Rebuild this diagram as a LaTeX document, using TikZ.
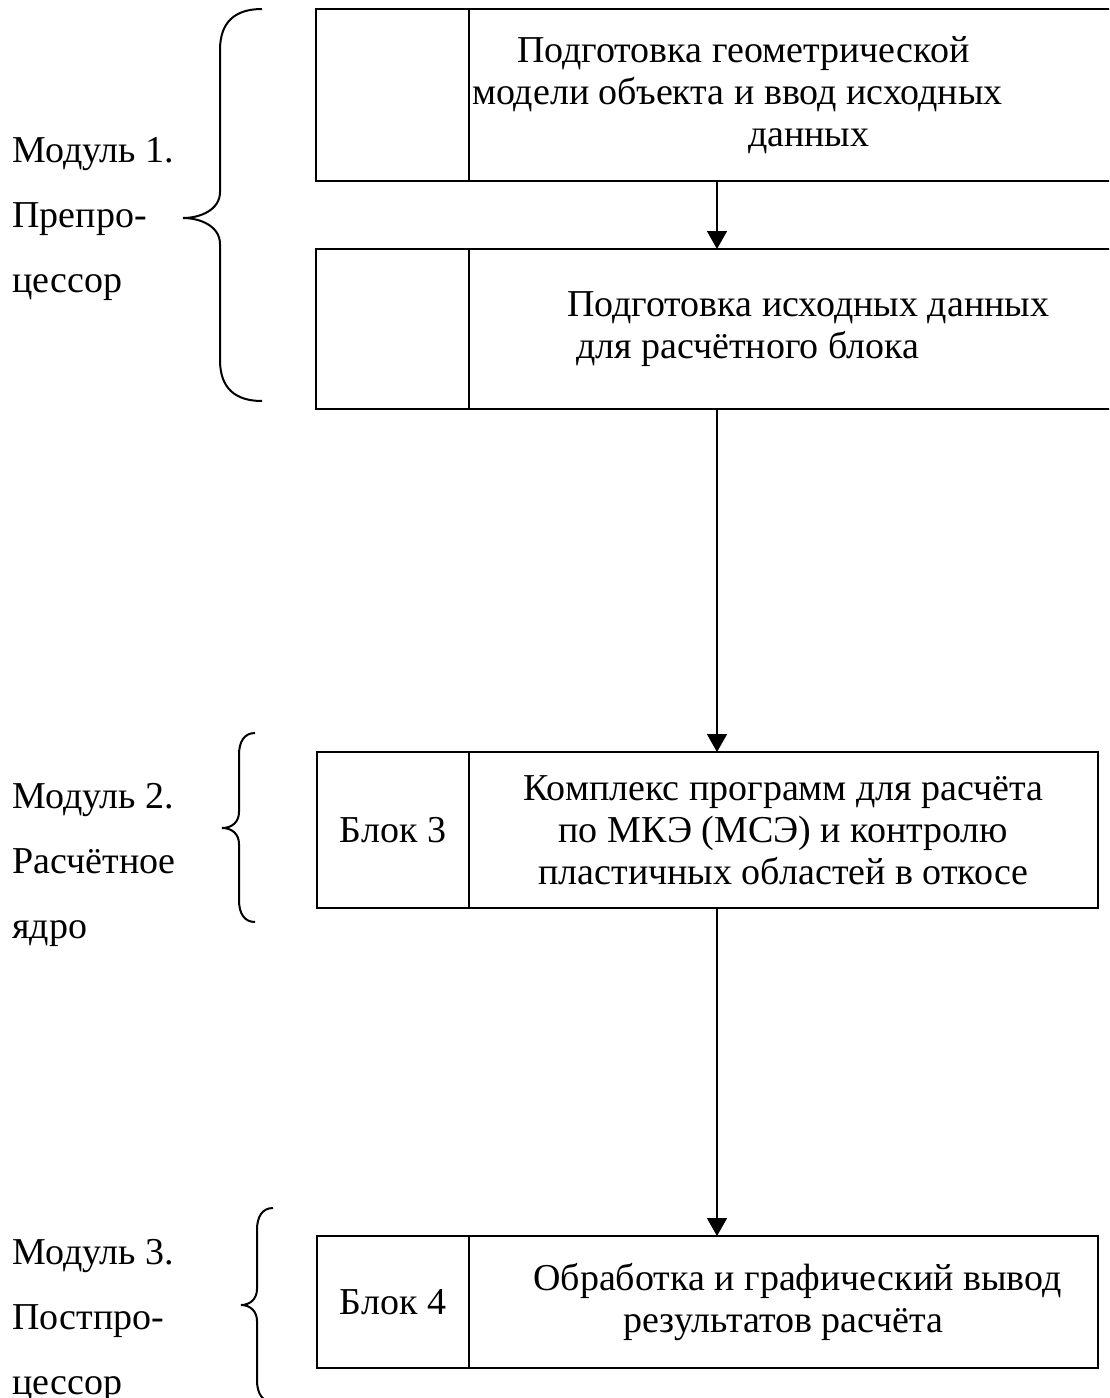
\documentclass[tikz,border=0pt]{standalone}
\usepackage{fontspec}
\setmainfont{Liberation Serif}
\usetikzlibrary{arrows.meta, positioning, calc}

\begin{document}
\begin{tikzpicture}[
    x=0.5pt, y=-0.5pt,
    % Node styles
    cell/.style={rectangle, draw, line width=1pt, outer sep=0pt, inner sep=0pt, minimum width=76.5pt, font=\fontsize{19}{21}\selectfont},
    mainbox/.style={rectangle, draw, line width=1pt, outer sep=0pt, inner sep=2pt, align=center, font=\fontsize{19}{21}\selectfont},
    widebox/.style={mainbox, inner xsep=0pt, text width=325.5pt, align=flush left},
    modlabel/.style={anchor=north west, inner sep=0pt, align=left, font=\fontsize{19}{32.5}\selectfont},
    % Line styles
    arrow/.style={-{Triangle[width=10pt, length=9pt]}, line width=0.8pt},
    bracket/.style={line width=1pt},
]
\useasboundingbox (0,0) rectangle (1109,1398);
\clip (0,0) rectangle (1109,1398);

% Module 1
\node (cell1) [cell, minimum height=86pt, anchor=north west] at (316,9) {};
\node (box1) [widebox, minimum height=86pt, right=0pt of cell1] {\hspace*{24pt}Подготовка геометрической\\\hspace*{1.5pt}модели объекта и ввод исходных\\\hspace*{139.5pt}данных};
\node (cell2) [cell, minimum height=80pt, anchor=north west] at (316,249) {};
\node (box2) [widebox, minimum height=80pt, right=0pt of cell2] {\hspace*{49pt}Подготовка исходных данных\\\hspace*{53.5pt}для расчётного блока};

% Module 2
\node (cell3) [cell, minimum width=76pt, minimum height=78pt, anchor=north west] at (317,752) {Блок 3};
\node (box3) [mainbox, minimum width=314.5pt, minimum height=78pt, right=0pt of cell3] {Комплекс программ для расчёта\\по МКЭ (МСЭ) и контролю\\пластичных областей в откосе};

% Module 3
\node (cell4) [cell, minimum width=76pt, minimum height=66pt, anchor=north west] at (317,1236) {Блок 4};
\node (box4) [mainbox, minimum width=314.5pt, minimum height=66pt, right=0pt of cell4] {\hspace*{14pt}Обработка и графический вывод\\результатов расчёта};

% Module labels
\node (mod1) [modlabel] at (12,137) {Модуль 1.\\Препро-\\цессор};
\node (mod2) [modlabel] at (12,783) {Модуль 2.\\Расчётное\\ядро};
\node (mod3) [modlabel] at (12,1239) {Модуль 3.\\Постпро-\\цессор};

% Arrows
\coordinate (axis) at (717,0);
\draw [arrow] (box1.south -| axis) -- (box2.north -| axis);
\draw [arrow] (box2.south -| axis) -- (box3.north -| axis);
\draw [arrow] (box3.south -| axis) -- (box4.north -| axis);

% Braces
\draw [bracket] (262,9) .. controls (235,9) and (220,22) .. (220,50) -- (220,192)
    .. controls (220,210) and (200,218) .. (183,218)
    .. controls (200,218) and (220,226) .. (220,244) -- (220,360)
    .. controls (220,388) and (235,401) .. (262,401);
\draw [bracket] (255,733) .. controls (244,733) and (239,742) .. (239,755) -- (239,812)
    .. controls (239,822) and (232,828) .. (222,828)
    .. controls (232,828) and (239,834) .. (239,844) -- (239,900)
    .. controls (239,913) and (244,922) .. (255,922);
\draw [bracket] (273,1208) .. controls (262,1208) and (257,1217) .. (257,1230) -- (257,1289)
    .. controls (257,1299) and (250,1305) .. (241,1305)
    .. controls (250,1305) and (257,1311) .. (257,1321) -- (257,1380)
    .. controls (257,1393) and (262,1402) .. (273,1402);

\end{tikzpicture}
\end{document}
